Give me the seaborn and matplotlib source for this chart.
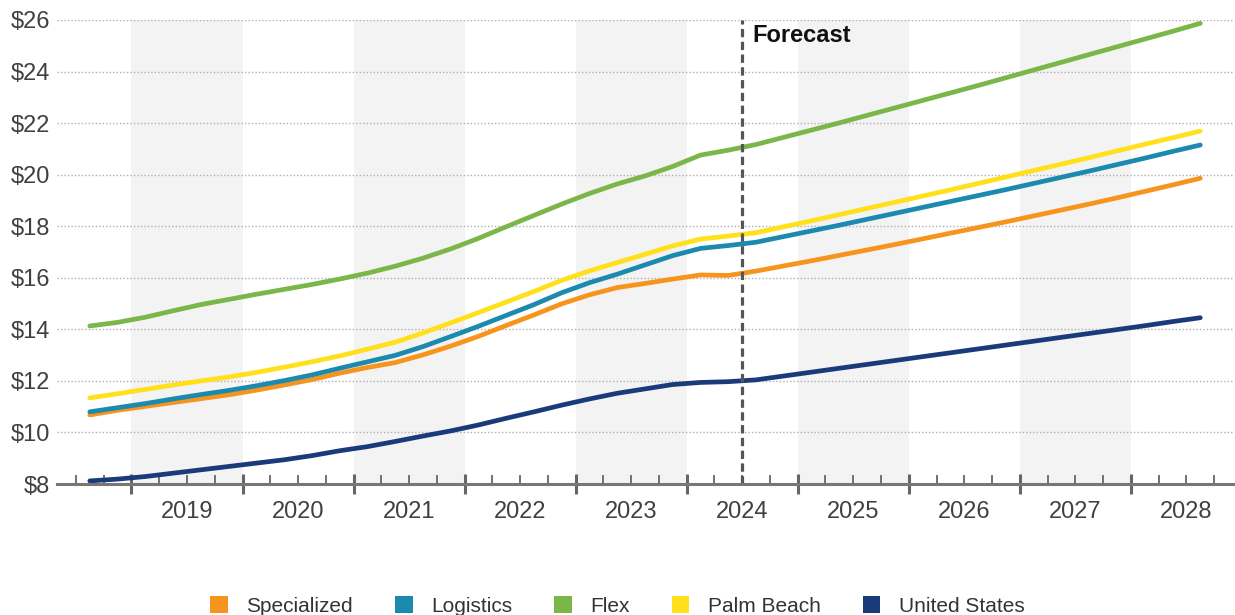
import seaborn as sns
import matplotlib.pyplot as plt
import matplotlib.ticker as mticker
from matplotlib.patches import Patch
import pandas as pd

# quarterly series, 2018 Q3 .. 2028 Q3 (forecast from mid-2024)
quarters = pd.period_range("2018Q3", "2028Q3", freq="Q")

specialized = [10.68, 10.86, 11.01, 11.16, 11.31, 11.46, 11.64, 11.84, 12.05, 12.30,
               12.52, 12.71, 13.01, 13.35, 13.73, 14.15, 14.56, 14.99, 15.34, 15.62,
               15.78, 15.95, 16.11, 16.09, 16.26, 16.46, 16.66, 16.87, 17.08, 17.29,
               17.51, 17.73, 17.95, 18.17, 18.40, 18.63, 18.86, 19.10, 19.35, 19.60, 19.86]
logistics = [10.80, 10.96, 11.12, 11.30, 11.47, 11.63, 11.81, 12.01, 12.23, 12.49,
             12.74, 12.99, 13.33, 13.72, 14.12, 14.54, 14.96, 15.42, 15.81, 16.14,
             16.50, 16.86, 17.14, 17.25, 17.38, 17.60, 17.82, 18.04, 18.27, 18.50,
             18.73, 18.96, 19.19, 19.42, 19.66, 19.90, 20.14, 20.39, 20.64, 20.90, 21.15]
flex = [14.13, 14.27, 14.47, 14.72, 14.96, 15.16, 15.36, 15.55, 15.74, 15.95,
        16.18, 16.45, 16.76, 17.12, 17.53, 17.98, 18.42, 18.86, 19.27, 19.64,
        19.95, 20.32, 20.76, 20.95, 21.17, 21.45, 21.73, 22.01, 22.30, 22.59,
        22.88, 23.17, 23.46, 23.76, 24.06, 24.36, 24.66, 24.96, 25.26, 25.56, 25.87]
palm_beach = [11.34, 11.50, 11.67, 11.84, 12.00, 12.15, 12.33, 12.53, 12.74, 12.97,
              13.23, 13.50, 13.86, 14.25, 14.65, 15.06, 15.47, 15.90, 16.27, 16.59,
              16.91, 17.24, 17.50, 17.62, 17.75, 17.98, 18.21, 18.45, 18.69, 18.93,
              19.17, 19.41, 19.66, 19.91, 20.16, 20.41, 20.66, 20.92, 21.18, 21.43, 21.69]
united_states = [8.12, 8.19, 8.29, 8.42, 8.55, 8.68, 8.81, 8.94, 9.10, 9.29,
                 9.45, 9.65, 9.86, 10.06, 10.29, 10.55, 10.80, 11.06, 11.30, 11.52,
                 11.69, 11.86, 11.94, 11.97, 12.04, 12.19, 12.34, 12.49, 12.64, 12.79,
                 12.94, 13.09, 13.24, 13.39, 13.54, 13.69, 13.84, 13.99, 14.14, 14.30, 14.45]

series_names = ["Specialized", "Logistics", "Flex", "Palm Beach", "United States"]
colors = ["#F7941D", "#1B8AAE", "#7AB648", "#FFE01B", "#1B3A7A"]
years = list(range(2019, 2029))
shaded_years = [2019, 2021, 2023, 2025, 2027]
forecast_start = 2024.5

# decimal year at middle of each quarter
t = [q.year + (q.quarter - 0.5) / 4 for q in quarters]
frames = []
for name, vals in zip(series_names, [specialized, logistics, flex, palm_beach, united_states]):
    frames.append(pd.DataFrame({"t": t, "value": vals, "series": name}))
df = pd.concat(frames, ignore_index=True)

sns.set_style("white")
plt.rcParams["font.family"] = ["Liberation Sans", "DejaVu Sans"]

fig = plt.figure(figsize=(12.35, 6.15), dpi=100)
ax = fig.add_axes([0.0462, 0.213, 0.9522, 0.7545])

for y in shaded_years:
    ax.axvspan(y, y + 1, color="#f3f3f3", zorder=0, lw=0)

sns.lineplot(data=df, x="t", y="value", hue="series", hue_order=series_names,
             palette=colors, linewidth=3.4, legend=False, ax=ax,
             solid_capstyle="round", solid_joinstyle="round", zorder=3)

ax.axvline(forecast_start, color="#555555", lw=2.3, ls=(0, (2.6, 1.4)), zorder=4)
ax.text(2024.59, 25.4, "Forecast", fontsize=17, fontweight="bold",
        color="#111111", va="center", ha="left")

ax.set_xlim(2018.33, 2028.92)
ax.set_ylim(8, 26)
ax.set_yticks(range(8, 27, 2))
ax.yaxis.set_major_formatter(mticker.FuncFormatter(lambda v, p: f"${v:.0f}"))
ax.set_axisbelow(True)
ax.yaxis.grid(True, linestyle=(0, (1, 1.5)), color="#b0b0b0", linewidth=1)
ax.xaxis.grid(False)

# year boundaries as major ticks, quarters as minor ticks; mid-year ticks carry the label
ax.set_xticks(years)
ax.set_xticklabels([])
minor = [y + q / 4 for y in range(2018, 2029) for q in (1, 2, 3)]
minor = [m for m in minor if 2018.33 < m < 2028.92]
ax.set_xticks(minor, minor=True)
ax.xaxis.set_minor_formatter(mticker.FuncFormatter(
    lambda v, p: f"{int(v)}" if abs(v % 1 - 0.5) < 1e-6 and v > 2019 else ""))

ax.tick_params(axis="x", which="both", bottom=True)
ax.tick_params(axis="x", which="major", direction="inout", length=15, width=2.2,
               color="#666666")
ax.tick_params(axis="x", which="minor", direction="in", length=6.5, width=1.3,
               color="#666666", labelsize=17, labelcolor="#404040", pad=12)
ax.tick_params(axis="y", length=0, labelsize=17, labelcolor="#404040", pad=5)
ax.set_xlabel("")
ax.set_ylabel("")

for s in ["top", "right", "left"]:
    ax.spines[s].set_visible(False)
ax.spines["bottom"].set_color("#777777")
ax.spines["bottom"].set_linewidth(2.2)
ax.spines["bottom"].set_zorder(5)

handles = [Patch(facecolor=c, edgecolor="none") for c in colors]
fig.legend(handles, series_names, loc="lower center", bbox_to_anchor=(0.5, -0.032),
           ncol=5, frameon=False, fontsize=15, handlelength=0.85, handleheight=0.85,
           handletextpad=0.9, columnspacing=2.0, labelcolor="#333333")

fig.savefig("out.png", dpi=100)
